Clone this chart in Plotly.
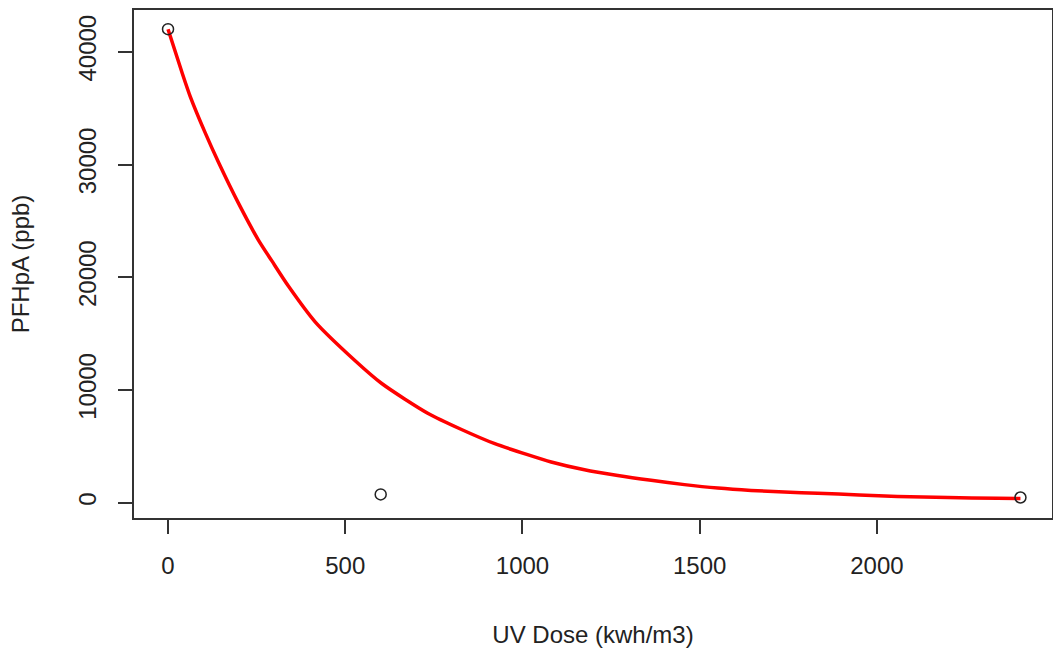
import plotly.graph_objects as go

# Observed data points
dose_pts = [0, 600, 2405]
pfhpa_pts = [42000, 740, 470]

# Fitted decay curve
curve_x = [0, 39, 63, 105, 143, 199, 255, 293, 340, 415, 528, 603, 734, 828, 922,
           1012, 1081, 1175, 1269, 1363, 1457, 1551, 1645, 1739, 1833, 1950, 2058,
           2200, 2340, 2405]
curve_y = [42000, 38200, 36000, 32800, 30150, 26550, 23300, 21450, 19200, 16050,
           12600, 10580, 7920, 6500, 5240, 4290, 3620, 2930, 2420, 1990, 1610, 1310,
           1100, 950, 850, 690, 560, 460, 400, 385]

x_ticks = [0, 500, 1000, 1500, 2000]
y_ticks = [0, 10000, 20000, 30000, 40000]

FONT = "Liberation Sans, Arial, sans-serif"

fig = go.Figure()
fig.add_trace(go.Scatter(
    x=curve_x, y=curve_y, mode="lines",
    line=dict(color="#ff0000", width=3.5, shape="spline", smoothing=0.7),
    showlegend=False,
))
fig.add_trace(go.Scatter(
    x=dose_pts, y=pfhpa_pts, mode="markers",
    marker=dict(symbol="circle-open", size=11, color="#222222", line=dict(width=1.5)),
    showlegend=False,
))

fig.update_layout(
    width=1053, height=650,
    margin=dict(l=134, r=1, t=10, b=132),
    paper_bgcolor="white", plot_bgcolor="white",
    font=dict(family=FONT, size=24, color="#222222"),
    xaxis=dict(
        range=[-96, 2494], tickvals=x_ticks, ticktext=[str(v) for v in x_ticks],
        automargin=False,
        showgrid=False, zeroline=False, showline=True, mirror=True,
        linecolor="#333333", linewidth=1.5,
        ticks="outside", ticklen=14, tickwidth=1.5, tickcolor="#333333",
        ticklabelstandoff=11,
        title=dict(text="UV Dose (kwh/m3)", standoff=49, font=dict(size=24)),
    ),
    yaxis=dict(
        range=[-1349, 43702], tickvals=y_ticks, ticktext=[str(v) for v in y_ticks],
        tickangle=-90, automargin=False,
        showgrid=False, zeroline=False, showline=True, mirror=True,
        linecolor="#333333", linewidth=1.5,
        ticks="outside", ticklen=14, tickwidth=1.5, tickcolor="#333333",
        ticklabelstandoff=13,
        title=dict(text="PFHpA (ppb)", standoff=37, font=dict(size=24)),
    ),
)

fig.write_html(
    "out.html",
    config={"displayModeBar": False},
    post_script="document.body.style.margin='0';document.body.style.padding='0';window.dispatchEvent(new Event('resize'));",
)
